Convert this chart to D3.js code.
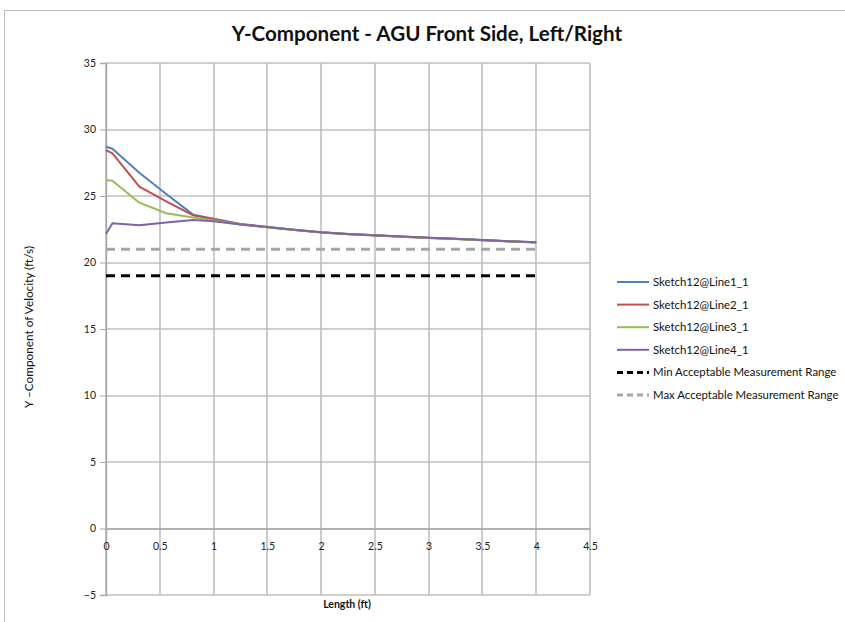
<!DOCTYPE html>
<html>
<head>
<meta charset="utf-8">
<script src="https://cdn.jsdelivr.net/npm/d3@7"></script>
<style>
  html, body { margin: 0; padding: 0; background: #fff; }
  svg { display: block; font-family: Lato, "Liberation Sans", sans-serif; }
</style>
</head>
<body>
<svg id="chart" width="845" height="622"></svg>
<script>
// Sample positions along the sketch lines (ft)
const lengths = [0, 0.06, 0.31, 0.56, 0.81, 1.0, 1.25, 1.5, 1.75, 2.0, 2.25, 2.5, 2.75, 3.0, 3.25, 3.5, 3.75, 4.0];

// Y-component of velocity (ft/s) for each sketch line
const line1 = [28.7, 28.55, 26.75, 25.15, 23.6, 23.3, 22.9, 22.68, 22.47, 22.28, 22.15, 22.05, 21.95, 21.86, 21.78, 21.69, 21.6, 21.52];
const line2 = [28.45, 28.2, 25.7, 24.6, 23.55, 23.25, 22.88, 22.65, 22.45, 22.26, 22.13, 22.03, 21.93, 21.84, 21.76, 21.67, 21.58, 21.5];
const line3 = [26.2, 26.15, 24.5, 23.7, 23.38, 23.15, 22.85, 22.65, 22.45, 22.27, 22.14, 22.04, 21.94, 21.85, 21.77, 21.68, 21.59, 21.51];
const line4 = [22.15, 22.95, 22.8, 23.0, 23.2, 23.1, 22.85, 22.66, 22.46, 22.28, 22.15, 22.05, 21.95, 21.86, 21.78, 21.69, 21.6, 21.52];

// Acceptable measurement limits (ft/s), drawn across the sketch length
const rangeLengths = [0, 4.0];
const minRange = [19, 19];
const maxRange = [21, 21];

const seriesNames = ["Sketch12@Line1_1", "Sketch12@Line2_1", "Sketch12@Line3_1", "Sketch12@Line4_1",
                     "Min Acceptable Measurement Range", "Max Acceptable Measurement Range"];
const xTicks = [0, 0.5, 1, 1.5, 2, 2.5, 3, 3.5, 4, 4.5];
const yTicks = [-5, 0, 5, 10, 15, 20, 25, 30, 35];

const series = [
  { name: seriesNames[0], xs: lengths, ys: line1, color: "#4f81bd", width: 2, dash: null },
  { name: seriesNames[1], xs: lengths, ys: line2, color: "#c0504d", width: 2, dash: null },
  { name: seriesNames[2], xs: lengths, ys: line3, color: "#9bbb59", width: 2, dash: null },
  { name: seriesNames[3], xs: lengths, ys: line4, color: "#8064a2", width: 2, dash: null },
  { name: seriesNames[4], xs: rangeLengths, ys: minRange, color: "#000000", width: 3, dash: "9,6" },
  { name: seriesNames[5], xs: rangeLengths, ys: maxRange, color: "#a6a6a6", width: 3, dash: "9,6" }
];

const svg = d3.select("#chart");

// Chart frame
svg.append("rect")
  .attr("x", 4.5).attr("y", 10.5)
  .attr("width", 900).attr("height", 700)
  .attr("fill", "#fff")
  .attr("stroke", "#bdbdbd")
  .attr("stroke-width", 1);

const plot = { left: 106, right: 590, top: 63, bottom: 595 };

const x = d3.scaleLinear().domain([0, 4.5]).range([plot.left, plot.right]);
const y = d3.scaleLinear().domain([-5, 35]).range([plot.bottom, plot.top]);

// Gridlines
const grid = svg.append("g");
grid.selectAll("line.h").data(yTicks).join("line")
  .attr("x1", plot.left).attr("x2", plot.right)
  .attr("y1", d => Math.round(y(d))).attr("y2", d => Math.round(y(d)))
  .attr("stroke", "#bfbfbf").attr("stroke-width", 1.6);
grid.selectAll("line.v").data(xTicks).join("line")
  .attr("y1", plot.top).attr("y2", plot.bottom)
  .attr("x1", d => Math.round(x(d))).attr("x2", d => Math.round(x(d)))
  .attr("stroke", "#bfbfbf").attr("stroke-width", 1.6);

// Y axis
const yAxis = d3.axisLeft(y).tickValues(yTicks).tickSize(6).tickPadding(4);
const gy = svg.append("g").attr("transform", `translate(${plot.left},0)`).call(yAxis);
gy.select(".domain").attr("stroke", "#a6a6a6").attr("stroke-width", 1.4);
gy.selectAll(".tick line").attr("stroke", "#a6a6a6");
gy.selectAll(".tick text").attr("font-size", 10.5).attr("fill", "#222")
  .attr("font-family", "Lato, 'Liberation Sans', sans-serif");

// X axis crossing at zero
const xAxis = d3.axisBottom(x).tickValues(xTicks).tickSize(0).tickPadding(14)
  .tickFormat(d3.format("~g"));
const gx = svg.append("g").attr("transform", `translate(0,${y(0)})`).call(xAxis);
gx.select(".domain").attr("stroke", "#a6a6a6").attr("stroke-width", 1.6);
gx.selectAll(".tick text").attr("font-size", 10.5).attr("fill", "#222")
  .attr("font-family", "Lato, 'Liberation Sans', sans-serif");

// Data lines
const lineGen = d3.line().x(d => x(d[0])).y(d => y(d[1]));
svg.append("g").selectAll("path").data(series).join("path")
  .attr("d", s => lineGen(s.xs.map((v, i) => [v, s.ys[i]])))
  .attr("fill", "none")
  .attr("stroke", s => s.color)
  .attr("stroke-width", s => s.width)
  .attr("stroke-dasharray", s => s.dash)
  .attr("stroke-linejoin", "round");

// Title
svg.append("text")
  .attr("x", 427).attr("y", 41)
  .attr("text-anchor", "middle")
  .attr("font-size", 20.6).attr("font-weight", "bold").attr("fill", "#111")
  .text("Y-Component - AGU Front Side, Left/Right");

// Axis titles
svg.append("text")
  .attr("x", 347).attr("y", 608)
  .attr("text-anchor", "middle")
  .attr("font-size", 10.5).attr("font-weight", "bold").attr("fill", "#111")
  .text("Length (ft)");

svg.append("text")
  .attr("transform", `translate(33,327) rotate(-90)`)
  .attr("text-anchor", "middle")
  .attr("font-size", 11.8).attr("fill", "#111")
  .text("Y \u2013Component of Velocity (ft/s)");

// Legend
const legend = svg.append("g").attr("transform", "translate(617,282)");
const rows = legend.selectAll("g").data(series).join("g")
  .attr("transform", (d, i) => `translate(0,${i * 22.6})`);
rows.append("line")
  .attr("x1", 0).attr("x2", 32).attr("y1", 0).attr("y2", 0)
  .attr("stroke", d => d.color)
  .attr("stroke-width", d => d.width)
  .attr("stroke-dasharray", d => d.dash ? "6,4" : null);
rows.append("text")
  .attr("x", 36).attr("y", 4)
  .attr("font-size", 11.4).attr("fill", "#111")
  .text(d => d.name);
</script>
</body>
</html>
